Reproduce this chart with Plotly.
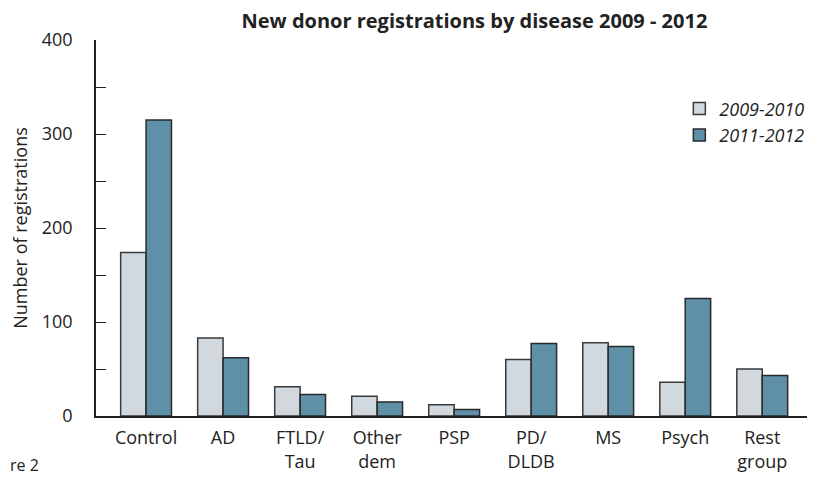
import plotly.graph_objects as go

categories = ["Control", "AD", "FTLD/<br>Tau", "Other<br>dem", "PSP", "PD/<br>DLDB", "MS", "Psych", "Rest<br>group"]
series_2009_2010 = [174, 83, 31, 21, 12, 60, 78, 36, 50]
series_2011_2012 = [315, 62, 23, 15, 7, 77, 74, 125, 43]
y_tickvals = [0, 100, 200, 300, 400]

FONT = "'Open Sans', 'Noto Sans', sans-serif"
x_idx = list(range(len(categories)))

fig = go.Figure()
fig.add_trace(go.Bar(x=x_idx, y=series_2009_2010, name="2009-2010", legendgroup="a",
                     marker=dict(color="#D1D9DF", line=dict(color="#3a3a3a", width=1.5))))
fig.add_trace(go.Bar(x=x_idx, y=series_2011_2012, name="2011-2012", legendgroup="b",
                     marker=dict(color="#5E90A7", line=dict(color="#2a2a2a", width=1.5))))

fig.update_layout(
    width=807, height=470,
    margin=dict(l=88, r=5, t=32, b=62, autoexpand=False),
    paper_bgcolor="white", plot_bgcolor="white",
    barmode="group", bargap=0.34, bargroupgap=0,
    font=dict(family=FONT, size=18, color="#222"),
    showlegend=True,
    legend=dict(x=0.817, y=0.866, xanchor="left", yanchor="top",
                font=dict(size=18, style="italic", color="#222"),
                tracegroupgap=0, bgcolor="rgba(0,0,0,0)"),
    title=dict(text="<b>New donor registrations by disease 2009 - 2012</b>",
               x=0.53, xref="paper", xanchor="center", y=(470 - 13) / 470, yanchor="middle",
               font=dict(family=FONT, size=20, color="#222")),
)
fig.update_xaxes(
    tickmode="array", tickvals=x_idx, ticktext=categories, automargin=False,
    range=[-0.65, 8.62], showline=True, linecolor="#222", linewidth=1.5,
    ticks="", showgrid=False, zeroline=False, tickfont=dict(size=18), ticklabelstandoff=5,
)
fig.update_yaxes(
    range=[0, 400], tickvals=y_tickvals, ticks="inside", ticklen=10, automargin=False,
    tickcolor="#222", tickwidth=1.2, ticklabelstandoff=18,
    minor=dict(ticks="inside", dtick=50, ticklen=10, tickcolor="#222", tickwidth=1.2),
    showline=True, linecolor="#222", linewidth=1.5, showgrid=False, zeroline=False,
    title=dict(text="Number of registrations", font=dict(size=18), standoff=14),
    tickfont=dict(size=18),
)
fig.add_annotation(text="re 2", xref="paper", yref="paper",
                   x=-88 / 714, y=-0.13, xanchor="left", yanchor="middle",
                   showarrow=False, font=dict(size=16, color="#222"))
fig.write_html("out.html")
